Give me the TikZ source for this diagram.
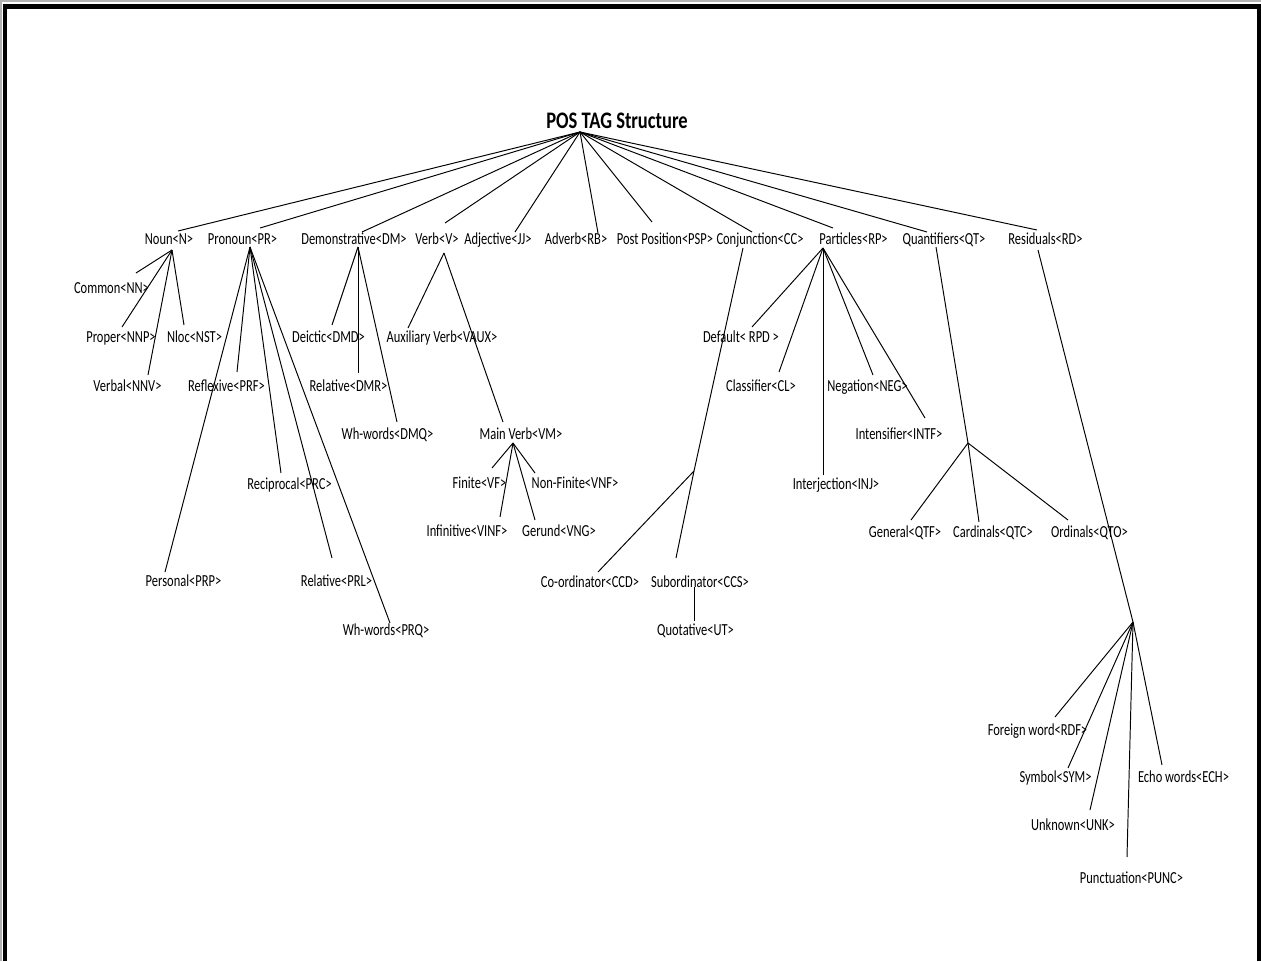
\documentclass[tikz,border=0pt]{standalone}
\usepackage{fontspec}
\setmainfont{Carlito}[FakeStretch=0.74]
\newfontfamily\titlefont{Carlito}[FakeStretch=0.78]
\begin{document}
\begin{tikzpicture}[x=0.02cm,y=-0.02cm,line width=0.55pt,
  lbl/.style={anchor=base,inner sep=0pt,font=\fontsize{9.6pt}{11pt}\selectfont},
  title/.style={anchor=base,inner sep=0pt,font=\titlefont\fontsize{13.5pt}{16pt}\selectfont\bfseries},
  edge/.style={draw=black,line width=0.55pt},
  frame/.style={draw=black,line width=0.1cm}]
\useasboundingbox (0,0) rectangle (1261,961);
\fill[white] (0,0) rectangle (1261,961);
% page frame, open at the bottom
\draw[gray!60,line width=0.05cm] (1,961) -- (1,1) -- (1261,1);
\draw[frame] (5,961) -- (5,6) -- (1259,6) -- (1259,961);

% root
\node[title] (root) at (617,128) {POS TAG Structure};
\coordinate (root-h) at (580,132);

% first level
\node[lbl] (noun)  at (169,244)  {Noun<N>};
\node[lbl] (pron)  at (242.5,244) {Pronoun<PR>};
\node[lbl] (demo)  at (354,244)  {Demonstrative<DM>};
\node[lbl] (verb)  at (437,244)  {Verb<V>};
\node[lbl] (adj)   at (498,244)  {Adjective<JJ>};
\node[lbl] (adv)   at (576,244)  {Adverb<RB>};
\node[lbl] (psp)   at (665,244)  {Post Position<PSP>};
\node[lbl] (conj)  at (760,244)  {Conjunction<CC>};
\node[lbl] (part)  at (853.5,244) {Particles<RP>};
\node[lbl] (quant) at (944,244)  {Quantifiers<QT>};
\node[lbl] (resid) at (1045.5,244) {Residuals<RD>};

\coordinate (noun-t)  at (178,231);
\coordinate (pron-t)  at (260,228);
\coordinate (demo-t)  at (362,232);
\coordinate (verb-t)  at (445,223);
\coordinate (adj-t)   at (515,232);
\coordinate (adv-t)   at (598,233);
\coordinate (psp-t)   at (652,222);
\coordinate (conj-t)  at (752,232);
\coordinate (part-t)  at (833,228);
\coordinate (quant-t) at (927,232);
\coordinate (resid-t) at (1037,230);

\foreach \c in {noun,pron,demo,verb,adj,adv,psp,conj,part,quant,resid}
  \draw[edge] (root-h) -- (\c-t);

% hubs below the first level
\coordinate (noun-b)  at (172,250);
\coordinate (pron-b)  at (250,247);
\coordinate (demo-b)  at (358,247);
\coordinate (verb-b)  at (444,253);
\coordinate (conj-b)  at (743,248);
\coordinate (part-b)  at (823,248);
\coordinate (quant-b) at (936,247);
\coordinate (resid-b) at (1038,250);

% Noun
\node[lbl] (common) at (111.5,293) {Common<NN>};
\node[lbl] (proper) at (121,342)   {Proper<NNP>};
\node[lbl] (nloc)   at (194.5,342) {Nloc<NST>};
\node[lbl] (verbal) at (127.5,391) {Verbal<NNV>};
\coordinate (common-t) at (136,273);
\coordinate (proper-t) at (122,327);
\coordinate (nloc-t)   at (184,325);
\coordinate (verbal-t) at (148,375);
\foreach \c in {common,proper,nloc,verbal} \draw[edge] (noun-b) -- (\c-t);

% Pronoun
\node[lbl] (reflexive)  at (226.5,391) {Reflexive<PRF>};
\node[lbl] (reciprocal) at (289.5,489) {Reciprocal<PRC>};
\node[lbl] (personal)   at (183.5,586) {Personal<PRP>};
\node[lbl] (prl)        at (336.5,586) {Relative<PRL>};
\node[lbl] (prq)        at (386,635)   {Wh-words<PRQ>};
\coordinate (reflexive-t)  at (237,372);
\coordinate (reciprocal-t) at (281,473);
\coordinate (personal-t)   at (165,572);
\coordinate (prl-t)        at (332,558);
\coordinate (prq-t)        at (390,623);
\foreach \c in {reflexive,reciprocal,personal,prl,prq} \draw[edge] (pron-b) -- (\c-t);

% Demonstrative
\node[lbl] (deictic) at (328.5,342) {Deictic<DMD>};
\node[lbl] (dmr)     at (348.5,391) {Relative<DMR>};
\node[lbl] (dmq)     at (387.5,439) {Wh-words<DMQ>};
\coordinate (deictic-t) at (332,325);
\coordinate (dmr-t)     at (358,373);
\coordinate (dmq-t)     at (397,422);
\foreach \c in {deictic,dmr,dmq} \draw[edge] (demo-b) -- (\c-t);

% Verb
\node[lbl] (aux)   at (442,342) {Auxiliary Verb<VAUX>};
\node[lbl] (vmain) at (521,439) {Main Verb<VM>};
\coordinate (aux-t)   at (408,328);
\coordinate (vmain-t) at (503,422);
\foreach \c in {aux,vmain} \draw[edge] (verb-b) -- (\c-t);

\coordinate (vmain-b) at (513,443);
\node[lbl] (finite)     at (479.5,488) {Finite<VF>};
\node[lbl] (nonfinite)  at (575,488)   {Non-Finite<VNF>};
\node[lbl] (infinitive) at (467,536)   {Infinitive<VINF>};
\node[lbl] (gerund)     at (559,536)   {Gerund<VNG>};
\coordinate (finite-t)     at (492,468);
\coordinate (nonfinite-t)  at (535,473);
\coordinate (infinitive-t) at (500,517);
\coordinate (gerund-t)     at (535,520);
\foreach \c in {finite,nonfinite,infinitive,gerund} \draw[edge] (vmain-b) -- (\c-t);

% Conjunction
\coordinate (conj-h) at (694,471);
\draw[edge] (conj-b) -- (conj-h);
\node[lbl] (coord)  at (590,587) {Co-ordinator<CCD>};
\node[lbl] (subord) at (700,587) {Subordinator<CCS>};
\node[lbl] (quot)   at (695.5,635) {Quotative<UT>};
\coordinate (coord-t)  at (598,572);
\coordinate (subord-t) at (676,558);
\coordinate (subord-b) at (694,587);
\coordinate (quot-t)   at (694,621);
\foreach \c in {coord,subord} \draw[edge] (conj-h) -- (\c-t);
\draw[edge] (subord-b) -- (quot-t);

% Particles
\node[lbl] (default)      at (741,342)   {Default< RPD >};
\node[lbl] (classifier)   at (761,391)   {Classifier<CL>};
\node[lbl] (negation)     at (867.5,391) {Negation<NEG>};
\node[lbl] (intensifier)  at (899,439)   {Intensifier<INTF>};
\node[lbl] (interjection) at (836,489)   {Interjection<INJ>};
\coordinate (default-t)      at (752,327);
\coordinate (classifier-t)   at (779,372);
\coordinate (negation-t)     at (873,375);
\coordinate (intensifier-t)  at (925,418);
\coordinate (interjection-t) at (823,475);
\foreach \c in {default,classifier,negation,intensifier,interjection} \draw[edge] (part-b) -- (\c-t);

% Quantifiers
\coordinate (quant-h) at (968,443);
\draw[edge] (quant-b) -- (quant-h);
\node[lbl] (general)   at (905,537)    {General<QTF>};
\node[lbl] (cardinals) at (993,537)    {Cardinals<QTC>};
\node[lbl] (ordinals)  at (1089.5,537) {Ordinals<QTO>};
\coordinate (general-t)   at (911,520);
\coordinate (cardinals-t) at (979,522);
\coordinate (ordinals-t)  at (1068,520);
\foreach \c in {general,cardinals,ordinals} \draw[edge] (quant-h) -- (\c-t);

% Residuals
\coordinate (resid-h) at (1133,622);
\draw[edge] (resid-b) -- (resid-h);
\node[lbl] (foreign) at (1037.5,735) {Foreign word<RDF>};
\node[lbl] (symbol)  at (1055.5,782) {Symbol<SYM>};
\node[lbl] (echo)    at (1183.5,782) {Echo words<ECH>};
\node[lbl] (unknown) at (1073,830)   {Unknown<UNK>};
\node[lbl] (punct)   at (1131.5,883) {Punctuation<PUNC>};
\coordinate (foreign-t) at (1055,717);
\coordinate (symbol-t)  at (1068,768);
\coordinate (echo-t)    at (1162,765);
\coordinate (unknown-t) at (1090,810);
\coordinate (punct-t)   at (1127,857);
\foreach \c in {foreign,symbol,echo,unknown,punct} \draw[edge] (resid-h) -- (\c-t);
\end{tikzpicture}
\end{document}
